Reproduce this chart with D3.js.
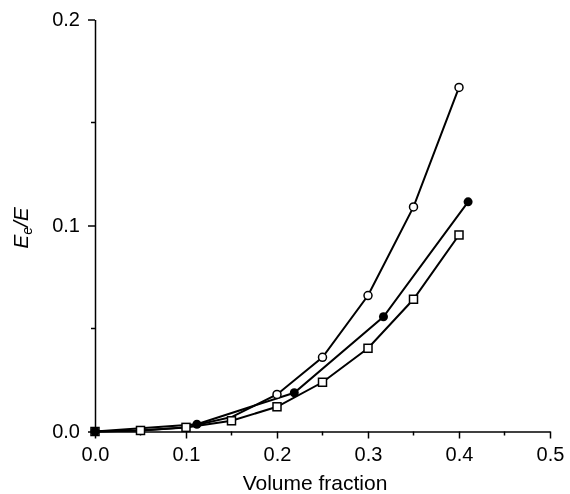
<!DOCTYPE html>
<html>
<head>
<meta charset="utf-8">
<script src="https://cdn.jsdelivr.net/npm/d3@7"></script>
<style>
  body { margin: 0; background: #fff; }
  svg { will-change: transform; }
  svg text { font-family: "Liberation Sans", Arial, sans-serif; fill: #000; }
</style>
</head>
<body>
<svg width="570" height="494"></svg>
<script>
// chart values
var openX = [0, 0.05, 0.1, 0.15, 0.2, 0.25, 0.3, 0.35, 0.4];
var openY = [0, 0.0005, 0.002, 0.007, 0.018, 0.036, 0.066, 0.109, 0.167];
var filledX = [0, 0.112, 0.219, 0.317, 0.41];
var filledY = [0, 0.0035, 0.0188, 0.0557, 0.1115];
var squareX = [0, 0.05, 0.1, 0.15, 0.2, 0.25, 0.3, 0.35, 0.4];
var squareY = [0, 0.0005, 0.002, 0.0052, 0.012, 0.0239, 0.0404, 0.0642, 0.0954];
var xTicks = [0, 0.1, 0.2, 0.3, 0.4, 0.5];
var yTicks = [0, 0.1, 0.2];
var xMinor = [0.05, 0.15, 0.25, 0.35, 0.45];
var yMinor = [0.05, 0.15];

var svg = d3.select("svg");

var x = d3.scaleLinear().domain([0, 0.5]).range([95, 550]);
var y = d3.scaleLinear().domain([0, 0.2]).range([431.5, 19.5]);

// axes
var xAxis = svg.append("g")
    .attr("transform", "translate(0," + y(0) + ")")
    .call(d3.axisBottom(x).tickValues(xTicks).tickFormat(d3.format(".1f")).tickSize(7).tickPadding(8).tickSizeOuter(0));
var yAxis = svg.append("g")
    .attr("transform", "translate(" + x(0) + ",0)")
    .call(d3.axisLeft(y).tickValues(yTicks).tickFormat(d3.format(".1f")).tickSize(7).tickPadding(8).tickSizeOuter(0));

svg.selectAll("g").attr("font-size", null).attr("font-family", null);
svg.selectAll(".tick text").attr("fill", "#000").style("font-size", "20px");
svg.selectAll(".domain, .tick line").attr("stroke", "#000").attr("stroke-width", 1.5);

xAxis.selectAll(".minor").data(xMinor).enter().append("line")
    .attr("class", "minor")
    .attr("x1", function(d) { return x(d); }).attr("x2", function(d) { return x(d); })
    .attr("y1", 0).attr("y2", 4)
    .attr("stroke", "#000").attr("stroke-width", 1.5);
yAxis.selectAll(".minor").data(yMinor).enter().append("line")
    .attr("class", "minor")
    .attr("y1", function(d) { return y(d); }).attr("y2", function(d) { return y(d); })
    .attr("x1", 0).attr("x2", -4)
    .attr("stroke", "#000").attr("stroke-width", 1.5);

// labels
svg.append("text")
    .attr("x", 315)
    .attr("y", 490)
    .attr("text-anchor", "middle")
    .attr("fill", "#000")
    .style("font-size", "21px")
    .text("Volume fraction");

var yl = svg.append("text")
    .attr("transform", "translate(28,228) rotate(-90)")
    .attr("text-anchor", "middle")
    .attr("fill", "#000")
    .style("font-size", "21px")
    .style("font-style", "italic");
yl.append("tspan").text("E");
yl.append("tspan").attr("dy", 4).style("font-size", "14px").text("e");
yl.append("tspan").attr("dy", -4).text("/E");

var line = d3.line().x(function(d) { return x(d[0]); }).y(function(d) { return y(d[1]); });

function series(xs, ys) {
    return xs.map(function(v, i) { return [v, ys[i]]; });
}

var openData = series(openX, openY);
var filledData = series(filledX, filledY);
var squareData = series(squareX, squareY);

[openData, filledData, squareData].forEach(function(s) {
    svg.append("path")
        .datum(s)
        .attr("d", line)
        .attr("fill", "none")
        .attr("stroke", "#000")
        .attr("stroke-width", 2);
});

// markers
svg.selectAll(".sq").data(squareData).enter().append("rect")
    .attr("class", "sq")
    .attr("x", function(d) { return x(d[0]) - 4; })
    .attr("y", function(d) { return y(d[1]) - 4; })
    .attr("width", 8).attr("height", 8)
    .attr("fill", "#fff").attr("stroke", "#000").attr("stroke-width", 1.5);

svg.selectAll(".oc").data(openData.filter(function(d) { return d[0] >= 0.2; })).enter().append("circle")
    .attr("class", "oc")
    .attr("cx", function(d) { return x(d[0]); })
    .attr("cy", function(d) { return y(d[1]); })
    .attr("r", 4)
    .attr("fill", "#fff").attr("stroke", "#000").attr("stroke-width", 1.5);

svg.selectAll(".fc").data(filledData).enter().append("circle")
    .attr("class", "fc")
    .attr("cx", function(d) { return x(d[0]); })
    .attr("cy", function(d) { return y(d[1]); })
    .attr("r", 4.5)
    .attr("fill", "#000");
</script>
</body>
</html>
